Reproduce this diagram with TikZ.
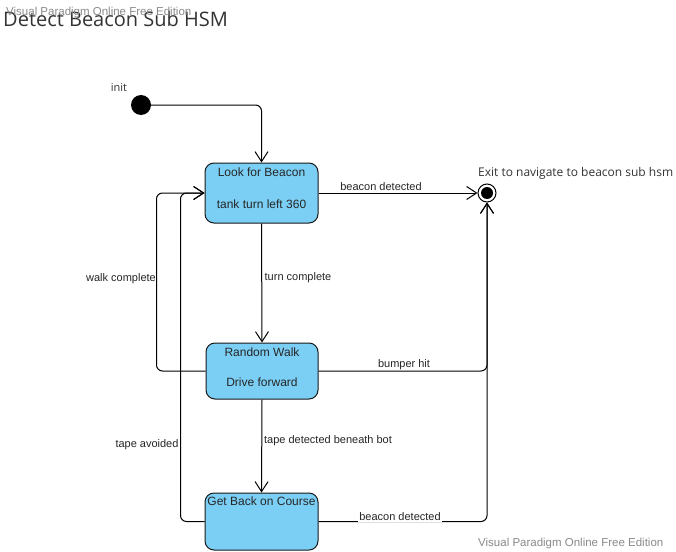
\documentclass[tikz,border=0pt]{standalone}
\usepackage{fontspec}
\setmainfont{Liberation Sans}
\newfontfamily\opensans{Open Sans}
\usetikzlibrary{arrows.meta}
\definecolor{boxfill}{HTML}{7BCFF5}
\definecolor{wm}{HTML}{8A8A8A}
\tikzset{
  statebox/.style={draw=black!90, line width=1pt, fill=boxfill, rounded corners=9pt, inner sep=0pt},
  boxtext/.style={font=\fontsize{12}{14}\selectfont, text=black!85, inner sep=0pt},
  lbl/.style={font=\fontsize{11}{13}\selectfont, text=black!85, inner sep=1pt},
  arr/.style={line width=1pt, rounded corners=6pt, -{Straight Barb[length=10pt,width=13pt,line width=1pt]}},
  wmark/.style={font=\fontsize{11.5}{13}\selectfont, text=wm, inner sep=0pt, anchor=base west},
}
\begin{document}
\begin{tikzpicture}[x=1pt,y=-1pt]
\useasboundingbox[fill=white] (0,0) rectangle (676,551);
% title and watermarks
\node[font=\opensans\fontsize{20}{22}\selectfont, text=black!80, anchor=base west, inner sep=0pt] (title) at (3,27) {Detect Beacon Sub HSM};
\node[wmark] (wm1) at (6,16) {Visual Paradigm Online Free Edition};
\node[wmark] (wm2) at (478,546) {Visual Paradigm Online Free Edition};
% initial state
\node[circle, fill=black, minimum size=20pt, inner sep=0pt] (init) at (141,105) {};
\node[font=\opensans\fontsize{11}{13}\selectfont, text=black!80, inner sep=0pt] (initl) at (119,88) {init};
% final state
\node[circle, draw=black, line width=1pt, fill=white, minimum size=18pt, inner sep=0pt] (exit) at (487,193) {};
\node[circle, fill=black, minimum size=12pt, inner sep=0pt] (exitin) at (487,193) {};
\node[font=\opensans\fontsize{12}{14}\selectfont, text=black!80, anchor=west, inner sep=0pt] (exitl) at (478,173) {Exit to navigate to beacon sub hsm};
% state boxes
\node[statebox, minimum width=113pt, minimum height=60pt] (lfb) at (261.5,193) {};
\node[boxtext] (lfb1) at (261.5,172) {Look for Beacon};
\node[boxtext] (lfb2) at (261.5,204) {tank turn left 360};
\node[statebox, minimum width=112pt, minimum height=56pt] (rw) at (262,371) {};
\node[boxtext] (rw1) at (262,352) {Random Walk};
\node[boxtext] (rw2) at (262,382) {Drive forward};
\node[statebox, minimum width=113pt, minimum height=57pt] (gb) at (261.5,521.5) {};
\node[boxtext] (gb1) at (261.5,501) {Get Back on Course};
% connectors
\draw[arr] (init.east) -| (lfb.north);
\draw[arr] (lfb.east) -- (exit.west);
\draw[arr] (lfb.south) -- (rw.north);
\draw[arr] (rw.south) -- (gb.north);
\draw[arr] (rw.west) -- ++(-49,0) |- (lfb.west);
\draw[arr] (gb.west) -- ++(-24,0) |- (lfb.west);
\draw[arr] (rw.east) -| (exit.south);
\draw[arr] (gb.east) -| (exit.south);
% labels
\node[lbl] (l1) at (381,187) {beacon detected};
\node[lbl] (l2) at (298,278) {turn complete};
\node[lbl] (l3) at (121,279) {walk complete};
\node[lbl] (l4) at (404,365) {bumper hit};
\node[lbl] (l5) at (147,445) {tape avoided};
\node[lbl] (l6) at (328,441) {tape detected beneath bot};
\node[lbl, fill=white] (l7) at (400,517) {beacon detected};
\end{tikzpicture}
\end{document}
